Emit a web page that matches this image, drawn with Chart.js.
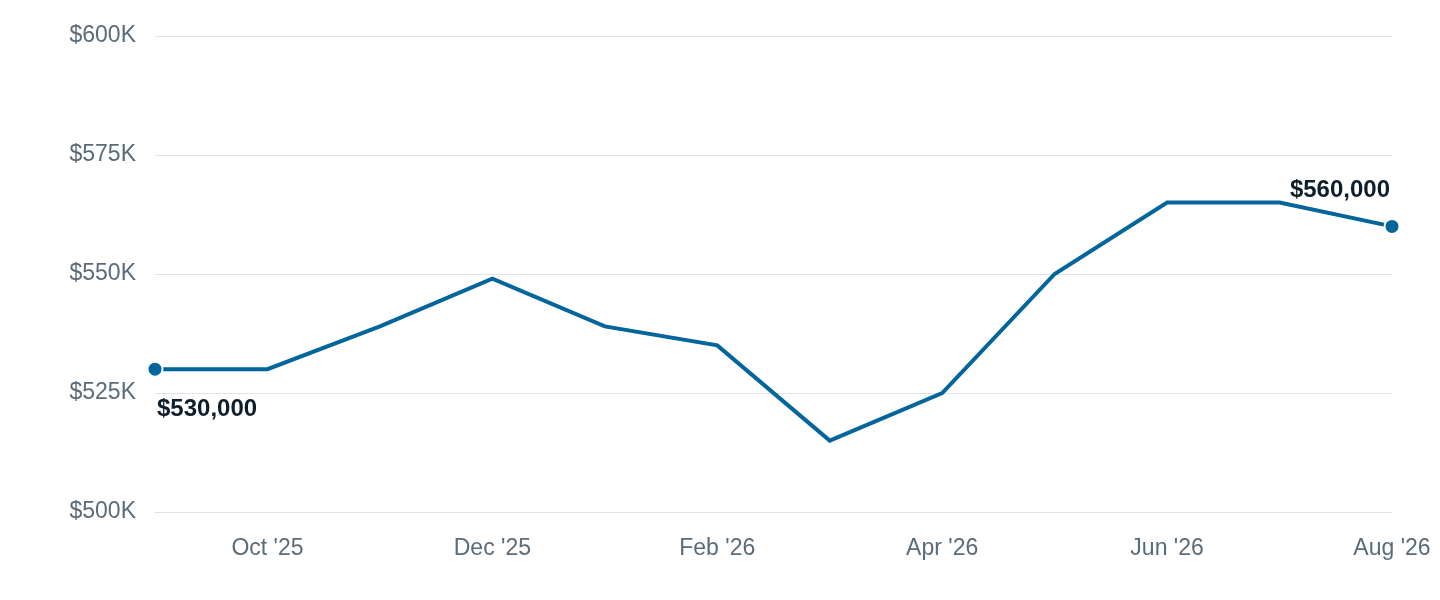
<!DOCTYPE html>
<html>
<head>
<meta charset="utf-8">
<script src="https://cdn.jsdelivr.net/npm/chart.js@4"></script>
<style>
  html, body { margin: 0; padding: 0; background: #fff; }
  #wrap { width: 1440px; height: 600px; }
</style>
</head>
<body>
<div id="wrap"><canvas id="priceChart" width="1440" height="600"></canvas></div>
<script>
// Monthly values
const months = ["Sep '25", "Oct '25", "Nov '25", "Dec '25", "Jan '26", "Feb '26",
                "Mar '26", "Apr '26", "May '26", "Jun '26", "Jul '26", "Aug '26"];
const prices = [530000, 530000, 539000, 549000, 539000, 535000,
                515000, 525000, 550000, 565000, 565000, 560000];

// Y axis ticks
const yMin = 500000;
const yMax = 600000;
const yStep = 25000;

const lineColor = '#02659b';
const lastIndex = prices.length - 1;
const fontFamily = '"Liberation Sans", Arial, sans-serif';

function fmtMoney(v) {
  return '$' + v.toLocaleString('en-US');
}

// Draw the start/end value labels next to the endpoint dots
const endLabels = {
  id: 'endLabels',
  afterDatasetsDraw(chart) {
    const meta = chart.getDatasetMeta(0);
    const ctx = chart.ctx;
    const first = meta.data[0];
    const last = meta.data[lastIndex];
    ctx.save();
    ctx.font = 'bold 24px ' + fontFamily;
    ctx.fillStyle = '#0f1e2b';
    ctx.textBaseline = 'middle';
    ctx.textAlign = 'left';
    ctx.fillText(fmtMoney(prices[0]), first.x + 2, first.y + 40);
    ctx.textAlign = 'right';
    ctx.fillText(fmtMoney(prices[lastIndex]), last.x - 2, last.y - 36);
    ctx.restore();
  }
};

const ctx = document.getElementById('priceChart').getContext('2d');

new Chart(ctx, {
  type: 'line',
  data: {
    labels: months,
    datasets: [{
      data: prices,
      borderColor: lineColor,
      borderWidth: 4,
      tension: 0,
      fill: false,
      pointRadius: (c) => (c.dataIndex === 0 || c.dataIndex === lastIndex) ? 7.5 : 0,
      pointBackgroundColor: lineColor,
      pointBorderColor: '#ffffff',
      pointBorderWidth: 2,
      pointHoverRadius: 0
    }]
  },
  options: {
    responsive: false,
    animation: false,
    devicePixelRatio: 1,
    layout: { padding: { left: 0, right: 48, top: 36, bottom: 0 } },
    plugins: {
      legend: { display: false },
      tooltip: { enabled: false }
    },
    scales: {
      x: {
        offset: false,
        grid: { display: false, drawTicks: false },
        border: { display: false },
        afterFit: (scale) => {
          scale.height = 88;
          scale.paddingLeft = 0;
          scale.paddingRight = 0;
        },
        ticks: {
          autoSkip: false,
          maxRotation: 0,
          padding: 23,
          color: '#5b6b78',
          font: { size: 23, family: fontFamily },
          callback: (value, index) => index % 2 === 1 ? months[index] : ''
        }
      },
      y: {
        min: yMin,
        max: yMax,
        afterFit: (scale) => {
          scale.width = 155;
          scale.paddingTop = 0;
          scale.paddingBottom = 0;
        },
        grid: { color: '#dfe3e9', lineWidth: 1, drawTicks: false },
        border: { display: false },
        ticks: {
          stepSize: yStep,
          padding: 19,
          color: '#5b6b78',
          font: { size: 23, family: fontFamily },
          callback: (v) => '$' + (v / 1000) + 'K'
        }
      }
    }
  },
  plugins: [endLabels]
});
</script>
</body>
</html>
